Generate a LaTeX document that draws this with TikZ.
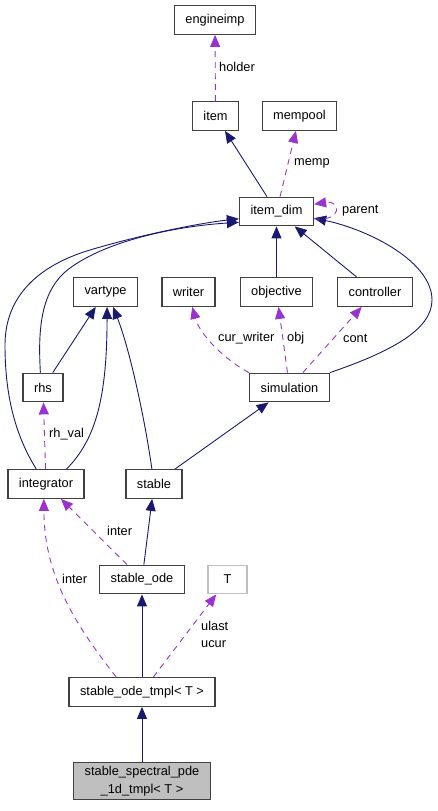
\documentclass[tikz,border=0pt]{standalone}
\usepackage{fontspec}
\setmainfont{Liberation Sans}
\usetikzlibrary{arrows.meta}
\definecolor{edgeblue}{HTML}{191970}
\definecolor{edgepurple}{HTML}{9A32CD}
\definecolor{boxgray}{HTML}{404040}
\definecolor{paramgray}{HTML}{BFBFBF}

\begin{document}
\begin{tikzpicture}[x=1pt,y=-1pt,
	font=\fontsize{12.8}{17.5}\selectfont,
	cls/.style={draw=boxgray,line width=1.3pt,fill=white,minimum height=28.5pt,inner xsep=11pt,inner ysep=2pt,text=black},
	inherit/.style={draw=edgeblue,line width=0.9pt,-{Triangle[length=12pt,width=10pt]}},
	uses/.style={draw=edgepurple,line width=0.9pt,dash pattern=on 6pt off 5pt,-{Triangle[length=12pt,width=10pt]}},
	lbl/.style={anchor=west,inner sep=0pt,text=black}]
	\useasboundingbox (0,0) rectangle (437,811);

	% classes
	\node[cls] (engineimp) at (215,20) {engineimp};
	\node[cls] (item) at (215.5,116) {item};
	\node[cls] (mempool) at (299.5,116) {mempool};
	\node[cls] (itemdim) at (276.5,211.5) {item\_dim};
	\node[cls] (vartype) at (105.5,292) {vartype};
	\node[cls] (writer) at (188.5,292) {writer};
	\node[cls] (objective) at (276.5,292) {objective};
	\node[cls] (controller) at (375,292) {controller};
	\node[cls] (rhs) at (43,387.5) {rhs};
	\node[cls] (simulation) at (289.5,387.5) {simulation};
	\node[cls] (integrator) at (46,484) {integrator};
	\node[cls] (stable) at (154,484) {stable};
	\node[cls] (stableode) at (142,579.5) {stable\_ode};
	\node[cls,draw=paramgray,minimum width=39pt] (T) at (227.5,579.5) {T};
	\node[cls] (odetmpl) at (142,692) {stable\_ode\_tmpl< T >};
	\node[cls,fill=paramgray,align=center,inner ysep=4pt] (spectral) at (142,781) {stable\_spectral\_pde\\\_1d\_tmpl< T >};

	% inheritance
	\draw[inherit] (itemdim) -- (item);
	\draw[inherit] (objective) -- (itemdim);
	\draw[inherit] (controller) -- (itemdim);
	\draw[inherit] (simulation.north east) .. controls (390,352) and (432,330) .. (432,300)
		.. controls (432,262) and (370,230) .. (itemdim.-10);
	\draw[inherit] (rhs.100) .. controls (38,330) and (40,290) .. (70,268)
		.. controls (110,239) and (180,226) .. (itemdim.196);
	\draw[inherit] (integrator.123) .. controls (15,435) and (5,395) .. (5,345)
		.. controls (5,295) and (40,265) .. (90,250)
		.. controls (140,235) and (200,223) .. (itemdim.191);
	\draw[inherit] (rhs) -- (vartype);
	\draw[inherit] (integrator.36) .. controls (95,440) and (107,400) .. (vartype.-84);
	\draw[inherit] (stable.98) .. controls (145,420) and (130,350) .. (vartype.-63);
	\draw[inherit] (stable) -- (simulation);
	\draw[inherit] (stableode) -- (stable);
	\draw[inherit] (odetmpl) -- (stableode);
	\draw[inherit] (spectral) -- (odetmpl);

	% usage
	\draw[uses] (item) -- (engineimp);
	\draw[uses] (itemdim) -- (mempool);
	\draw[uses] (itemdim.-11) .. controls (342,222) and (342,200) .. (itemdim.11);
	\draw[uses] (simulation.north west) .. controls (225,360) and (200,335) .. (writer.-76);
	\draw[uses] (simulation) -- (objective);
	\draw[uses] (simulation) -- (controller);
	\draw[uses] (integrator) -- (rhs);
	\draw[uses] (stableode) -- (integrator);
	\draw[uses] (odetmpl.150) .. controls (80,630) and (44,580) .. (integrator.-98);
	\draw[uses] (odetmpl) -- (T);

	% labels
	\node[lbl] (holder) at (219,67) {holder};
	\node[lbl] (memp) at (294,163) {memp};
	\node[lbl] (parent) at (342,211) {parent};
	\node[lbl] (curwriter) at (218,338) {cur\_writer};
	\node[lbl] (obj) at (287,338) {obj};
	\node[lbl] (cont) at (343,338) {cont};
	\node[lbl] (rhval) at (49,434) {rh\_val};
	\node[lbl] (interA) at (107,531) {inter};
	\node[lbl] (interB) at (62,579) {inter};
	\node[lbl,align=left] (ulast) at (201,634.5) {ulast\\ucur};
\end{tikzpicture}
\end{document}
